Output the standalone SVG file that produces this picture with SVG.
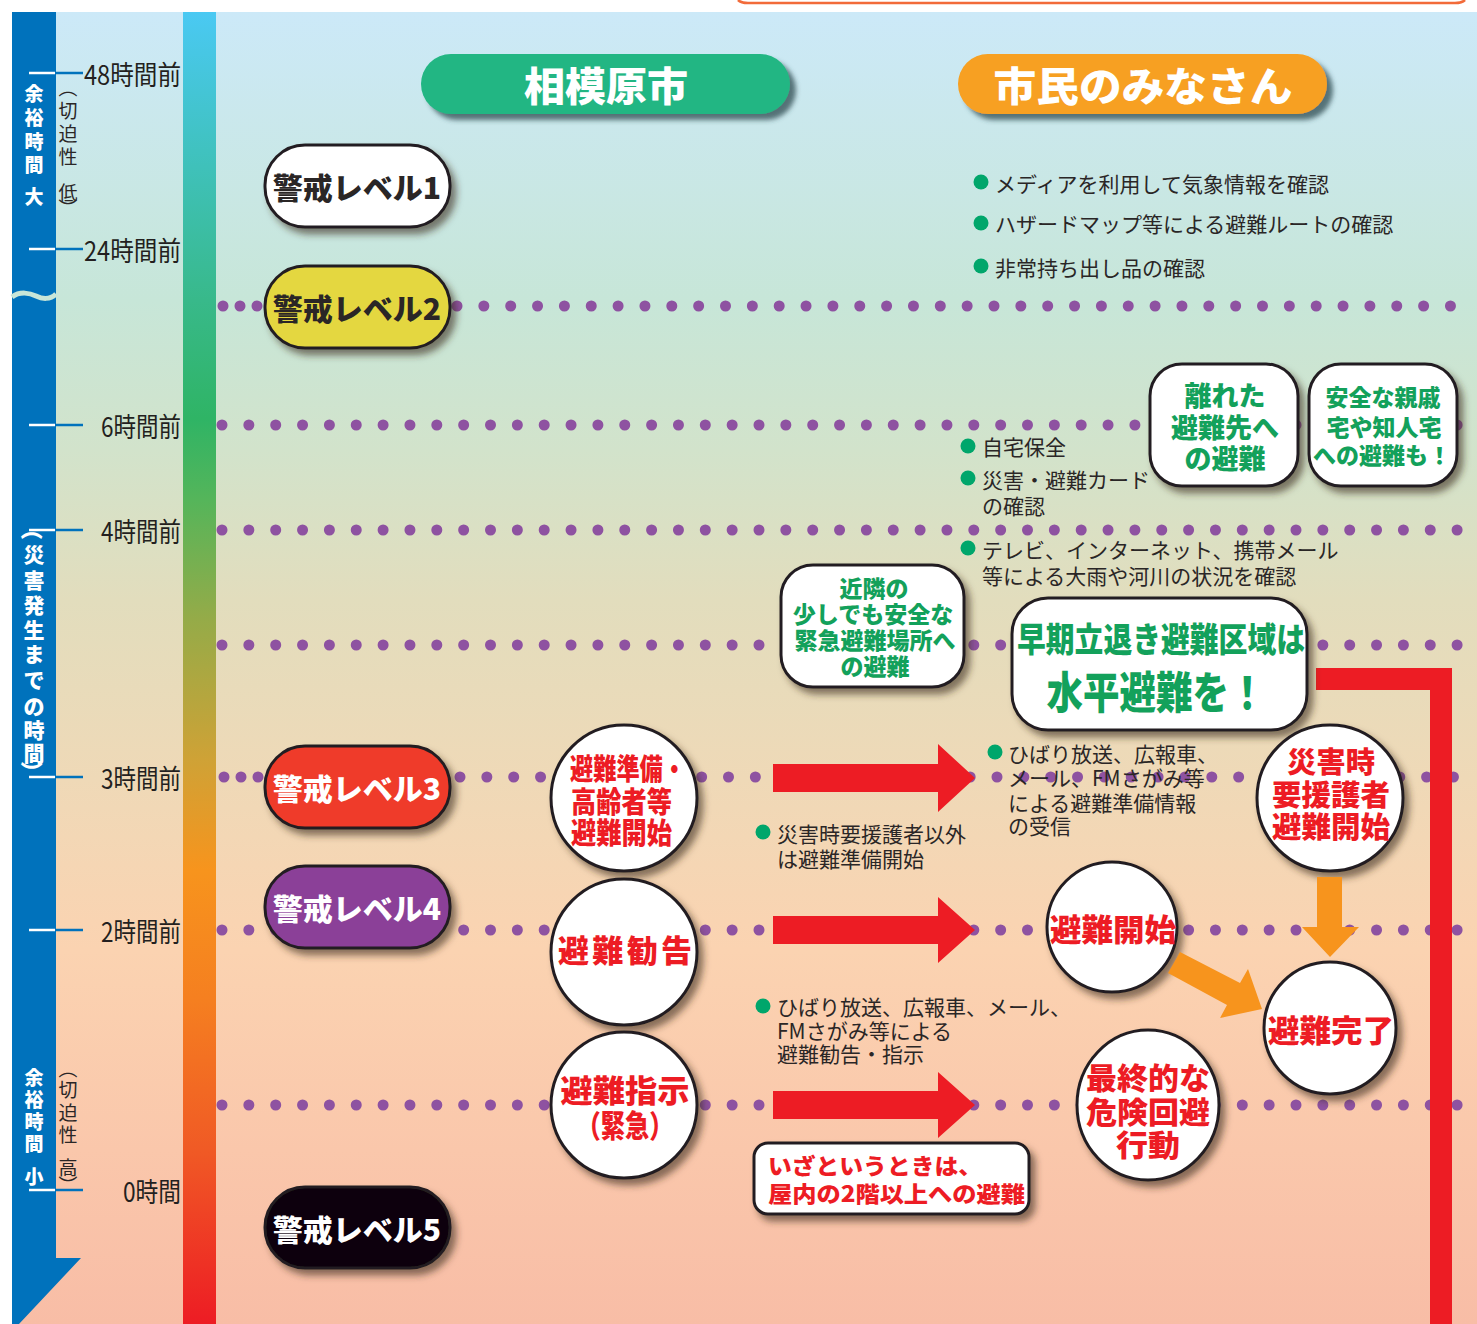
<svg xmlns="http://www.w3.org/2000/svg" width="1477" height="1324" viewBox="0 0 1477 1324">
<defs>
<linearGradient id="bg" gradientUnits="userSpaceOnUse" x1="0" y1="12" x2="0" y2="1324">
<stop offset="0" stop-color="#cce9f8"/>
<stop offset="0.22" stop-color="#c7e6d8"/>
<stop offset="0.334" stop-color="#d2e3cb"/>
<stop offset="0.448" stop-color="#e2ddbd"/>
<stop offset="0.585" stop-color="#efd9b7"/>
<stop offset="0.715" stop-color="#fbd3b1"/>
<stop offset="0.867" stop-color="#fac7ab"/>
<stop offset="1" stop-color="#f8bda6"/>
</linearGradient>
<linearGradient id="bar" gradientUnits="userSpaceOnUse" x1="0" y1="12" x2="0" y2="1324">
<stop offset="0" stop-color="#4ac9f3"/>
<stop offset="0.105" stop-color="#40c2c0"/>
<stop offset="0.22" stop-color="#38b98a"/>
<stop offset="0.31" stop-color="#2fb465"/>
<stop offset="0.372" stop-color="#55b55a"/>
<stop offset="0.463" stop-color="#95ab48"/>
<stop offset="0.57" stop-color="#cfa236"/>
<stop offset="0.654" stop-color="#f7941d"/>
<stop offset="0.753" stop-color="#f57f20"/>
<stop offset="0.867" stop-color="#f05a25"/>
<stop offset="1" stop-color="#ed1c24"/>
</linearGradient>
<filter id="sh" x="-20%" y="-20%" width="150%" height="150%">
<feDropShadow dx="5" dy="6" stdDeviation="3.5" flood-color="#3b2a1a" flood-opacity="0.6"/>
</filter>
<filter id="hsh" x="-10%" y="-20%" width="130%" height="160%">
<feDropShadow dx="6" dy="6" stdDeviation="2.5" flood-color="#2d4a50" flood-opacity="0.75"/>
</filter>
</defs>
<style>
text{font-family:"Noto Sans CJK JP","Noto Sans CJK SC","Noto Sans",sans-serif;dominant-baseline:central}
.bd{font-weight:900}
.k{fill:#2a2626}
.w{fill:#fff}
.g{fill:#13a15b}
.r{fill:#ed1c24}
.mid{text-anchor:middle}
.end{text-anchor:end}
.ol{stroke:#231f20;stroke-width:3}
.box{fill:#fff;stroke:#231f20;stroke-width:3}
.dot{fill:none;stroke:#8e52a1;stroke-width:11;stroke-linecap:round;stroke-dasharray:0 26.85}
.dotl{fill:none;stroke:#8e52a1;stroke-width:11;stroke-linecap:round;stroke-dasharray:0 17}
.bul{fill:#00a66b}
.tx{font-size:21px}
.tk1{stroke:#fff;stroke-width:2.5}
.tk2{stroke:#0072bc;stroke-width:2.5}
.hr{font-size:27px;fill:#231f20}
.lv{font-size:30px}
</style>

<rect x="0" y="0" width="1477" height="1324" fill="#fff"/>
<path d="M738 0 Q741 3 748 3 H1455 Q1462 3 1465 0" fill="none" stroke="#f26b3a" stroke-width="2.5"/>
<rect x="12" y="12" width="1465" height="1312" fill="url(#bg)"/>

<g id="time-axis">
<path d="M12 12 H56 V1258 H81 L19 1324 H12 Z" fill="#0072bc"/>
<path d="M12 297 C20 291 30 293 36 296 S50 300 56 294" fill="none" stroke="#c8e6d8" stroke-width="5"/>
<rect x="183" y="12" width="33" height="1312" fill="url(#bar)"/>
<g>
<line class="tk1" x1="29" y1="73" x2="55" y2="73"/><line class="tk2" x1="55" y1="73" x2="83" y2="73"/>
<line class="tk1" x1="29" y1="249" x2="55" y2="249"/><line class="tk2" x1="55" y1="249" x2="83" y2="249"/>
<line class="tk1" x1="29" y1="425" x2="55" y2="425"/><line class="tk2" x1="55" y1="425" x2="83" y2="425"/>
<line class="tk1" x1="29" y1="530" x2="55" y2="530"/><line class="tk2" x1="55" y1="530" x2="83" y2="530"/>
<line class="tk1" x1="29" y1="777" x2="55" y2="777"/><line class="tk2" x1="55" y1="777" x2="83" y2="777"/>
<line class="tk1" x1="29" y1="930" x2="55" y2="930"/><line class="tk2" x1="55" y1="930" x2="83" y2="930"/>
<line class="tk1" x1="29" y1="1190" x2="55" y2="1190"/><line class="tk2" x1="55" y1="1190" x2="83" y2="1190"/>
</g>
<text class="hr end" x="181" y="73" textLength="97" lengthAdjust="spacingAndGlyphs">48時間前</text>
<text class="hr end" x="181" y="249" textLength="97" lengthAdjust="spacingAndGlyphs">24時間前</text>
<text class="hr end" x="181" y="425" textLength="80" lengthAdjust="spacingAndGlyphs">6時間前</text>
<text class="hr end" x="181" y="530" textLength="80" lengthAdjust="spacingAndGlyphs">4時間前</text>
<text class="hr end" x="181" y="777" textLength="80" lengthAdjust="spacingAndGlyphs">3時間前</text>
<text class="hr end" x="181" y="930" textLength="80" lengthAdjust="spacingAndGlyphs">2時間前</text>
<text class="hr end" x="181" y="1190" textLength="58" lengthAdjust="spacingAndGlyphs">0時間</text>

<text class="bd w mid" font-size="19"><tspan x="34" y="92">余</tspan><tspan x="34" y="116">裕</tspan><tspan x="34" y="140">時</tspan><tspan x="34" y="163">間</tspan><tspan x="34" y="195">大</tspan></text>
<text class="k mid" font-size="19" transform="rotate(90 68 88)" x="68" y="88">（</text>
<text class="k mid" font-size="19"><tspan x="68" y="109">切</tspan><tspan x="68" y="132">迫</tspan><tspan x="68" y="155">性</tspan><tspan x="68" y="191">低</tspan></text>
<text class="k mid" font-size="19" transform="rotate(90 68 208)" x="68" y="208">）</text>

<text class="bd w mid" font-size="22" transform="rotate(90 34 529)" x="34" y="529">（</text>
<text class="bd w mid" font-size="21"><tspan x="34" y="553">災</tspan><tspan x="34" y="579">害</tspan><tspan x="34" y="604">発</tspan><tspan x="34" y="629">生</tspan><tspan x="34" y="653">ま</tspan><tspan x="34" y="679">で</tspan><tspan x="34" y="705">の</tspan><tspan x="34" y="729">時</tspan><tspan x="34" y="752">間</tspan></text>
<text class="bd w mid" font-size="22" transform="rotate(90 34 772)" x="34" y="772">）</text>

<text class="bd w mid" font-size="19"><tspan x="34" y="1076">余</tspan><tspan x="34" y="1098">裕</tspan><tspan x="34" y="1120">時</tspan><tspan x="34" y="1142">間</tspan><tspan x="34" y="1175">小</tspan></text>
<text class="k mid" font-size="19" transform="rotate(90 68 1069)" x="68" y="1069">（</text>
<text class="k mid" font-size="19"><tspan x="68" y="1088">切</tspan><tspan x="68" y="1111">迫</tspan><tspan x="68" y="1133">性</tspan><tspan x="68" y="1166">高</tspan></text>
<text class="k mid" font-size="19" transform="rotate(90 68 1185)" x="68" y="1185">）</text>
</g>

<g id="dotted-lines">
<line class="dotl" x1="223" y1="306" x2="258" y2="306"/>
<line class="dot" x1="457" y1="306" x2="1477" y2="306"/>
<line class="dot" x1="222" y1="425" x2="1477" y2="425"/>
<line class="dot" x1="222" y1="530" x2="1477" y2="530"/>
<line class="dot" x1="222" y1="645" x2="1477" y2="645"/>
<line class="dotl" x1="224" y1="777" x2="259" y2="777"/>
<line class="dot" x1="460" y1="777" x2="1477" y2="777"/>
<line class="dot" x1="222" y1="930" x2="1477" y2="930"/>
<line class="dot" x1="222" y1="1105" x2="1477" y2="1105"/>
</g>

<g id="red-bar">
<path d="M1316 668 H1452 V1324 H1430 V690 H1316 Z" fill="#ed1c24"/>
</g>

<g id="header-city">
<rect x="421" y="54" width="369" height="60" rx="30" fill="#22b683" filter="url(#hsh)"/>
<text class="bd w mid" x="606" y="84" font-size="40" textLength="164" lengthAdjust="spacingAndGlyphs">相模原市</text>
</g>
<g id="header-citizens">
<rect x="958" y="54" width="369" height="60" rx="30" fill="#f7a020" filter="url(#hsh)"/>
<text class="bd w mid" x="1143" y="84" font-size="40" textLength="299" lengthAdjust="spacingAndGlyphs">市民のみなさん</text>
</g>

<g id="level1">
<rect class="ol" x="265" y="145" width="185" height="82" rx="40" fill="#fff" filter="url(#sh)"/>
<text class="bd k lv mid" x="357" y="186">警戒レベル1</text>
</g>
<g id="level2">
<rect class="ol" x="265" y="266" width="185" height="82" rx="40" fill="#e4d740" filter="url(#sh)"/>
<text class="bd k lv mid" x="357" y="307">警戒レベル2</text>
</g>
<g id="level3">
<rect class="ol" x="265" y="746" width="185" height="82" rx="40" fill="#ef3b29" filter="url(#sh)"/>
<text class="bd w lv mid" x="357" y="787">警戒レベル3</text>
</g>
<g id="level4">
<rect class="ol" x="265" y="866" width="185" height="82" rx="40" fill="#8b3f98" filter="url(#sh)"/>
<text class="bd w lv mid" x="357" y="907">警戒レベル4</text>
</g>
<g id="level5">
<rect class="ol" x="265" y="1187" width="185" height="81" rx="40" fill="#0b0208" filter="url(#sh)"/>
<text class="bd w lv mid" x="357" y="1228">警戒レベル5</text>
</g>

<g id="info-media">
<circle class="bul" cx="981" cy="182" r="7.5"/>
<text class="k tx" x="995" y="183">メディアを利用して気象情報を確認</text>
<circle class="bul" cx="981" cy="223" r="7.5"/>
<text class="k tx" x="995" y="223">ハザードマップ等による避難ルートの確認</text>
<circle class="bul" cx="981" cy="266" r="7.5"/>
<text class="k tx" x="995" y="267">非常持ち出し品の確認</text>
</g>

<g id="info-home">
<circle class="bul" cx="968" cy="446" r="7.5"/>
<text class="k tx" x="982" y="446">自宅保全</text>
<circle class="bul" cx="968" cy="478" r="7.5"/>
<text class="k tx" x="982" y="479">災害・避難カード</text>
<text class="k tx" x="982" y="505">の確認</text>
</g>

<g id="info-tv">
<circle class="bul" cx="968" cy="548" r="7.5"/>
<text class="k tx" x="982" y="549">テレビ、インターネット、携帯メール</text>
<text class="k tx" x="982" y="575">等による大雨や河川の状況を確認</text>
</g>

<g id="box-far">
<rect class="box" x="1150" y="364" width="148" height="122" rx="32" filter="url(#sh)"/>
<text class="bd g mid" font-size="27"><tspan x="1225" y="394">離れた</tspan><tspan x="1225" y="426">避難先へ</tspan><tspan x="1225" y="457">の避難</tspan></text>
</g>
<g id="box-relatives">
<rect class="box" x="1309" y="364" width="148" height="122" rx="32" filter="url(#sh)"/>
<text class="bd g mid" font-size="23"><tspan x="1383" y="396">安全な親戚</tspan><tspan x="1384" y="426">宅や知人宅</tspan><tspan x="1382" y="454">への避難も！</tspan></text>
</g>
<g id="box-nearby">
<rect class="box" x="781" y="565" width="183" height="122" rx="32" filter="url(#sh)"/>
<text class="bd g mid" font-size="23"><tspan x="874" y="587">近隣の</tspan><tspan x="873" y="613">少しでも安全な</tspan><tspan x="875" y="639">緊急避難場所へ</tspan><tspan x="875" y="665">の避難</tspan></text>
</g>
<g id="box-horizontal">
<rect class="box" x="1012" y="598" width="295" height="132" rx="36" filter="url(#sh)"/>
<text class="bd g mid" x="1161" y="637" font-size="34" textLength="288" lengthAdjust="spacingAndGlyphs">早期立退き避難区域は</text>
<text class="bd g mid" x="1156" y="690" font-size="44" textLength="219" lengthAdjust="spacingAndGlyphs">水平避難を！</text>
</g>

<g id="circle-prep">
<circle class="box" cx="624" cy="798" r="73" filter="url(#sh)"/>
<text class="bd r" font-size="29"><tspan x="570" y="767" textLength="116" lengthAdjust="spacingAndGlyphs">避難準備・</tspan><tspan x="571" y="800" textLength="101" lengthAdjust="spacingAndGlyphs">高齢者等</tspan><tspan x="571" y="831" textLength="101" lengthAdjust="spacingAndGlyphs">避難開始</tspan></text>
</g>
<g id="circle-advice">
<circle class="box" cx="624" cy="952" r="73" filter="url(#sh)"/>
<text class="bd r" x="558" y="948" font-size="31" textLength="134" lengthAdjust="spacing">避難勧告</text>
</g>
<g id="circle-order">
<circle class="box" cx="624" cy="1105" r="73" filter="url(#sh)"/>
<text class="bd r mid" font-size="31"><tspan x="625" y="1088" textLength="129" lengthAdjust="spacingAndGlyphs">避難指示</tspan><tspan x="625" y="1123" textLength="97" lengthAdjust="spacingAndGlyphs">（緊急）</tspan></text>
</g>

<g id="info-prep-others">
<circle class="bul" cx="763" cy="832" r="7.5"/>
<text class="k tx" x="777" y="833">災害時要援護者以外</text>
<text class="k tx" x="777" y="858">は避難準備開始</text>
</g>
<g id="info-broadcast-prep">
<circle class="bul" cx="995" cy="752" r="7.5"/>
<text class="k tx" x="1008" y="753">ひばり放送、広報車、</text>
<text class="k tx" x="1008" y="777">メール、FMさがみ等</text>
<text class="k tx" x="1008" y="802">による避難準備情報</text>
<text class="k tx" x="1008" y="825">の受信</text>
</g>
<g id="info-broadcast-advice">
<circle class="bul" cx="763" cy="1006" r="7.5"/>
<text class="k tx" x="777" y="1006">ひばり放送、広報車、メール、</text>
<text class="k tx" x="777" y="1030">FMさがみ等による</text>
<text class="k tx" x="777" y="1053">避難勧告・指示</text>
</g>

<g id="circle-support">
<circle class="box" cx="1330" cy="798" r="73" filter="url(#sh)"/>
<text class="bd r mid" font-size="29"><tspan x="1331" y="760" textLength="88" lengthAdjust="spacingAndGlyphs">災害時</tspan><tspan x="1331" y="793" textLength="118" lengthAdjust="spacingAndGlyphs">要援護者</tspan><tspan x="1331" y="825" textLength="118" lengthAdjust="spacingAndGlyphs">避難開始</tspan></text>
</g>
<g id="circle-start">
<circle class="box" cx="1112" cy="927" r="65" filter="url(#sh)"/>
<text class="bd r mid" x="1113" y="927" font-size="31" textLength="126" lengthAdjust="spacingAndGlyphs">避難開始</text>
</g>
<g id="circle-done">
<circle class="box" cx="1330" cy="1028" r="66" filter="url(#sh)"/>
<text class="bd r mid" x="1331" y="1028" font-size="31" textLength="126" lengthAdjust="spacingAndGlyphs">避難完了</text>
</g>
<g id="circle-final">
<ellipse class="box" cx="1148" cy="1105" rx="71" ry="75" filter="url(#sh)"/>
<text class="bd r mid" font-size="30"><tspan x="1148" y="1076" textLength="124" lengthAdjust="spacingAndGlyphs">最終的な</tspan><tspan x="1148" y="1110" textLength="124" lengthAdjust="spacingAndGlyphs">危険回避</tspan><tspan x="1148" y="1143" textLength="64" lengthAdjust="spacingAndGlyphs">行動</tspan></text>
</g>

<g id="box-upstairs">
<rect class="box" x="754" y="1143" width="275" height="71" rx="14" filter="url(#sh)"/>
<text class="bd r" font-size="22"><tspan x="768" y="1164" textLength="214" lengthAdjust="spacingAndGlyphs">いざというときは、</tspan><tspan x="768" y="1192" textLength="257" lengthAdjust="spacingAndGlyphs">屋内の2階以上への避難</tspan></text>
</g>

<g id="connectors">
<path d="M773 764 H938 V744 L975 778 L938 812 V792 H773 Z" fill="#ed1c24"/>
<path d="M773 916 H938 V897 L975 930 L938 963 V944 H773 Z" fill="#ed1c24"/>
<path d="M773 1091 H938 V1072 L975 1105 L938 1138 V1119 H773 Z" fill="#ed1c24"/>
<path d="M1317 877 H1342 V927 H1359 L1330 957 L1302 927 H1317 Z" fill="#f7941d"/>
<path d="M1180 952 L1240 983 L1248 969 L1262 1009 L1220 1018 L1227 1005 L1168 973 Z" fill="#f7941d"/>
</g>
</svg>
